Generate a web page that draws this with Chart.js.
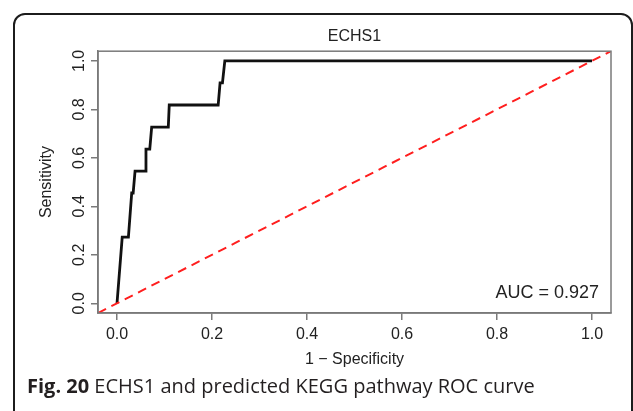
<!DOCTYPE html>
<html>
<head>
<meta charset="utf-8">
<script src="https://cdn.jsdelivr.net/npm/chart.js@4.4.1/dist/chart.umd.min.js"></script>
<style>
  html, body { margin: 0; padding: 0; background: #fff; }
  #wrap { position: relative; width: 633px; height: 411px; overflow: hidden; }
  #frame {
    position: absolute; left: 13px; top: 13px; width: 620px; height: 430px;
    box-sizing: border-box; border: 2px solid #1c1c1c; border-radius: 12px;
  }
  #caption {
    position: absolute; left: 27px; top: 376px; margin: 0;
    font: 20px/1 "Open Sans", sans-serif; color: #231f20; white-space: nowrap;
  }
  #caption b { font-weight: 700; }
  canvas { position: absolute; left: 0; top: 0; }
</style>
</head>
<body>
<div id="wrap">
  <div id="frame"></div>
  <canvas id="roc" width="633" height="411"></canvas>
  <p id="caption"><b>Fig. 20</b> ECHS1 and predicted KEGG pathway ROC curve</p>
</div>
<script>
// ROC curve of ECHS1 (11 positives -> steps of 1/11)
const fpr = [0, 0.011, 0.024, 0.031, 0.034, 0.038, 0.059, 0.061, 0.069, 0.073, 0.108, 0.110, 0.213, 0.217, 0.222, 0.227, 1.0];
const tpr = [0, 0.273, 0.273, 0.455, 0.455, 0.545, 0.545, 0.636, 0.636, 0.727, 0.727, 0.818, 0.818, 0.909, 0.909, 1.0, 1.0];

// chance line, running corner to corner of the plot region
const diagX = [-0.04, 1.04];
const diagY = [-0.04, 1.04];

const tickValues = [0, 0.2, 0.4, 0.6, 0.8, 1.0];
const aucLabel = "AUC = 0.927";

const axisGray = "#7a7a7a";
const textColor = "#222";
const fontFamily = '"Liberation Sans", Arial, sans-serif';

function toPoints(xs, ys) {
  return xs.map((x, i) => ({ x: x, y: ys[i] }));
}

// box round the plot, y tick labels turned like in R, and the AUC text
const rStyle = {
  id: "rStyle",
  afterDraw(chart) {
    const ctx = chart.ctx;
    const area = chart.chartArea;
    const yScale = chart.scales.y;

    ctx.save();
    ctx.strokeStyle = axisGray;
    ctx.lineWidth = 1.5;
    ctx.strokeRect(area.left, area.top, area.right - area.left, area.bottom - area.top);

    ctx.fillStyle = textColor;
    ctx.font = "16px " + fontFamily;
    ctx.textAlign = "center";
    ctx.textBaseline = "middle";
    tickValues.forEach((v) => {
      const py = yScale.getPixelForValue(v);
      ctx.save();
      ctx.translate(80, py);
      ctx.rotate(-Math.PI / 2);
      ctx.fillText(v.toFixed(1), 0, 0);
      ctx.restore();
    });

    ctx.font = "18px " + fontFamily;
    ctx.textAlign = "right";
    ctx.fillText(aucLabel, area.right - 12, area.bottom - 20);
    ctx.restore();
  }
};

new Chart(document.getElementById("roc"), {
  type: "scatter",
  data: {
    datasets: [
      {
        label: "ROC",
        data: toPoints(fpr, tpr),
        showLine: true,
        borderColor: "#111",
        borderWidth: 2.8,
        pointRadius: 0,
        tension: 0,
        order: 2
      },
      {
        label: "chance",
        data: toPoints(diagX, diagY),
        showLine: true,
        borderColor: "#ff1f1f",
        borderWidth: 2,
        borderDash: [9, 6],
        pointRadius: 0,
        order: 1
      }
    ]
  },
  options: {
    responsive: false,
    animation: false,
    layout: { padding: { left: 0, right: 22, top: 0, bottom: 0 } },
    plugins: {
      legend: { display: false },
      tooltip: { enabled: false },
      title: {
        display: true,
        text: "ECHS1",
        fullSize: false,
        color: textColor,
        font: { family: fontFamily, size: 16, weight: "normal" },
        padding: { top: 27, bottom: 5 }
      }
    },
    scales: {
      x: {
        type: "linear",
        min: -0.04,
        max: 1.04,
        afterFit(scale) { scale.height = 98; },
        afterBuildTicks(scale) { scale.ticks = tickValues.map((v) => ({ value: v })); },
        border: { display: true, color: axisGray, width: 1.5 },
        grid: { drawOnChartArea: false, drawTicks: true, tickLength: 7, color: axisGray, lineWidth: 1.5 },
        ticks: {
          color: textColor,
          padding: 5,
          font: { family: fontFamily, size: 16 },
          maxRotation: 0,
          callback: (v) => Number(v).toFixed(1)
        },
        title: {
          display: true,
          text: "1 \u2212 Specificity",
          color: textColor,
          font: { family: fontFamily, size: 16 },
          padding: { top: 0, bottom: 42 }
        }
      },
      y: {
        type: "linear",
        min: -0.04,
        max: 1.04,
        afterFit(scale) { scale.width = 98; },
        afterBuildTicks(scale) { scale.ticks = tickValues.map((v) => ({ value: v })); },
        border: { display: true, color: axisGray, width: 1.5 },
        grid: { drawOnChartArea: false, drawTicks: true, tickLength: 7, color: axisGray, lineWidth: 1.5 },
        ticks: { display: false },
        title: {
          display: true,
          text: "Sensitivity",
          color: textColor,
          font: { family: fontFamily, size: 16 },
          padding: { top: 37, bottom: 0 }
        }
      }
    }
  },
  plugins: [rStyle]
});
</script>
</body>
</html>
